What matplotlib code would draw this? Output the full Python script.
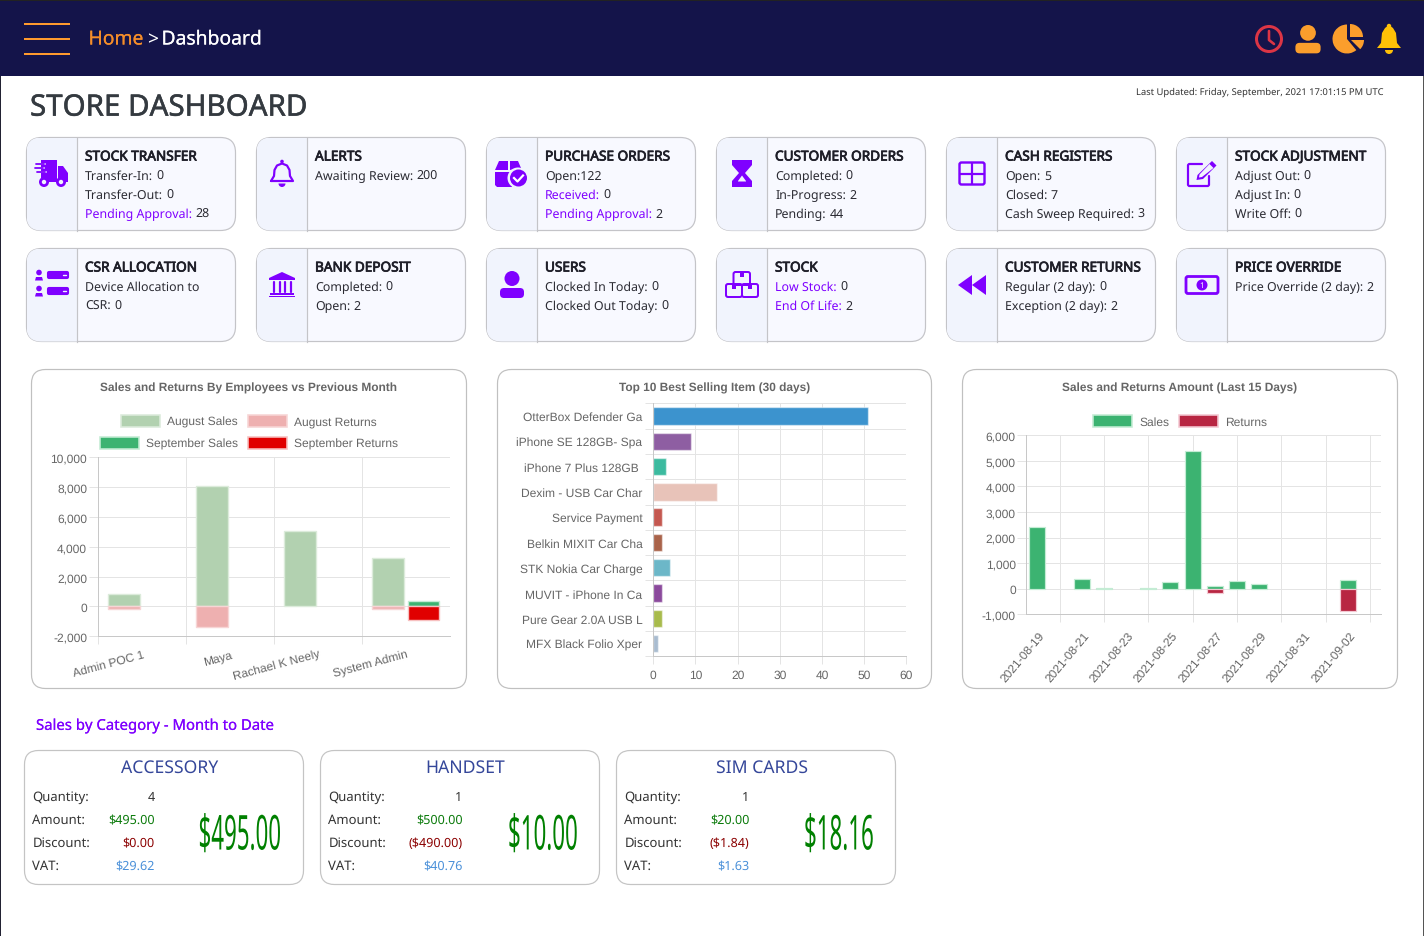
import numpy as np
import matplotlib
matplotlib.use('Agg')
import matplotlib.pyplot as plt
from matplotlib.patches import Rectangle, FancyBboxPatch, Circle, Polygon, Wedge
from matplotlib.patheffects import AbstractPathEffect, Stroke, Normal
from matplotlib.transforms import Affine2D

plt.rcParams['text.hinting'] = 'none'

W = 1424
H = 937
UI_FONT = 'Noto Sans'
CHART_FONT = 'Liberation Sans'
PURPLE = '#7f00ff'
GRID = '#e4e4e4'
AXIS_LINE = '#c8c8c8'
TICK_TEXT = '#666666'

# top cards: title, then lines of (label, value, label is purple)
card_titles = ['STOCK TRANSFER', 'ALERTS', 'PURCHASE ORDERS', 'CUSTOMER ORDERS', 'CASH REGISTERS', 'STOCK ADJUSTMENT',
               'CSR ALLOCATION', 'BANK DEPOSIT', 'USERS', 'STOCK', 'CUSTOMER RETURNS', 'PRICE OVERRIDE']
card_lines = [
    [('Transfer-In:', '0', False), ('Transfer-Out:', '0', False), ('Pending Approval:', '28', True)],
    [('Awaiting Review:', '200', False)],
    [('Open:122', '', False), ('Received:', '0', True), ('Pending Approval:', '2', True)],
    [('Completed:', '0', False), ('In-Progress:', '2', False), ('Pending:', '44', False)],
    [('Open:', '5', False), ('Closed:', '7', False), ('Cash Sweep Required:', '3', False)],
    [('Adjust Out:', '0', False), ('Adjust In:', '0', False), ('Write Off:', '0', False)],
    [('Device Allocation to', '', False), ('CSR:', '0', False)],
    [('Completed:', '0', False), ('Open:', '2', False)],
    [('Clocked In Today:', '0', False), ('Clocked Out Today:', '0', False)],
    [('Low Stock:', '0', True), ('End Of Life:', '2', True)],
    [('Regular (2 day):', '0', False), ('Exception (2 day):', '2', False)],
    [('Price Override (2 day):', '2', False)],
]

# chart 1
employees = ['Admin POC 1', 'Maya', 'Rachael K Neely', 'System Admin']
august_sales = [850, 8050, 5050, 3250]
august_returns = [-200, -1400, 0, -200]
september_sales = [0, 0, 0, 350]
september_returns = [0, 0, 0, -900]

# chart 2
top_items = ['OtterBox Defender Ga', 'iPhone SE 128GB- Spa', 'iPhone 7 Plus 128GB ', 'Dexim - USB Car Char', 'Service Payment',
             'Belkin MIXIT Car Cha', 'STK Nokia Car Charge', 'MUVIT - iPhone In Ca', 'Pure Gear 2.0A USB L', 'MFX Black Folio Xper']
top_quantity = [51, 9, 3, 15, 2, 2, 4, 2, 2, 1]
top_colors = ['#3c93ce', '#8e5ea2', '#3cba9f', '#e8c3b9', '#c45850', '#a9634a', '#6cb7c8', '#8b4a9c', '#a8bb4c', '#a9bcd0']

# chart 3
day_labels = ['2021-08-19', '2021-08-21', '2021-08-23', '2021-08-25', '2021-08-27', '2021-08-29', '2021-08-31', '2021-09-02']
daily_sales = [2400, 0, 370, 30, 0, 20, 270, 5400, 90, 290, 170, 0, 0, 0, 340, 0]
daily_returns = [0, 0, 0, 0, 0, 0, 0, 0, -170, 0, 0, 0, 0, 0, -880, 0]

# bottom cards
category_names = ['ACCESSORY', 'HANDSET', 'SIM CARDS']
category_quantity = ['4', '1', '1']
category_amount = ['$495.00', '$500.00', '$20.00']
category_discount = ['$0.00', '($490.00)', '($1.84)']
category_vat = ['$29.62', '$40.76', '$1.63']
category_total = ['$495.00', '$10.00', '$18.16']


class Squeeze(AbstractPathEffect):
    # big totals on the page are tall narrow text, stretch around the anchor
    def __init__(self, sx, sy, x0, y0):
        self.sx = sx
        self.sy = sy
        self.x0 = x0
        self.y0 = y0

    def draw_path(self, renderer, gc, tpath, affine, rgbFace=None):
        squash = Affine2D().translate(-self.x0, -self.y0).scale(self.sx, self.sy).translate(self.x0, self.y0)
        renderer.draw_path(gc, tpath, affine + squash, rgbFace)


def px(v):
    return v * 0.72


def pxAxes(fig, left, top, right, bottom):
    ax = fig.add_axes([left / W, 1 - bottom / H, (right - left) / W, (bottom - top) / H])
    ax.patch.set_alpha(0)
    return ax


def nonZero(x, values):
    # bars of value 0 leave no mark on the page
    values = np.array(values)
    return x[values != 0], values[values != 0]


def roundBox(ax, x0, y0, x1, y1, r, fc, ec, lw=1.0, z=1):
    box = FancyBboxPatch((x0 + r, y0 + r), x1 - x0 - 2 * r, y1 - y0 - 2 * r, boxstyle='round,pad=%f,rounding_size=%f' % (r, r),
                         fc=fc, ec=ec, lw=px(lw), zorder=z)
    ax.add_patch(box)
    return box


def label(ax, x, y, s, size, color='#222222', weight='normal', ha='left', family=UI_FONT, va='center', thick=0):
    t = ax.text(x, y, s, fontsize=px(size), color=color, fontweight=weight, ha=ha, va=va, family=family, zorder=6)
    if thick > 0:
        # the UI font has no heavier face installed
        t.set_path_effects([Stroke(linewidth=thick, foreground=color), Normal()])
    return t


def outlineRect(ax, x, y, w, h, lw=2.2, c=PURPLE, fc='none'):
    ax.add_patch(FancyBboxPatch((x, y), w, h, boxstyle='round,pad=0,rounding_size=2', fc=fc, ec=c, lw=px(lw), zorder=5))


def fill(ax, pts, c=PURPLE):
    ax.add_patch(Polygon(pts, closed=True, fc=c, ec='none', zorder=5))


def dot(ax, x, y, r, c=PURPLE, z=5):
    ax.add_patch(Circle((x, y), r, fc=c, ec='none', zorder=z))


def stroke(ax, xs, ys, lw=2.0, c=PURPLE):
    ax.plot(xs, ys, color=c, lw=px(lw), solid_capstyle='round', zorder=5)


def personIcon(ax, cx, top, scale, c=PURPLE):
    dot(ax, cx, top + 7.5 * scale, 7.5 * scale, c)
    ax.add_patch(FancyBboxPatch((cx - 12 * scale, top + 17 * scale), 24 * scale, 10 * scale,
                                boxstyle='round,pad=0,rounding_size=%f' % (4 * scale), fc=c, ec='none', zorder=5))


def bellOutline(ax, cx, c=PURPLE):
    xs = [cx - 11, cx - 8, cx - 7.5, cx - 5, cx, cx + 5, cx + 7.5, cx + 8, cx + 11, cx - 11]
    ys = [181, 176, 170, 165.5, 163.5, 165.5, 170, 176, 181, 181]
    stroke(ax, xs, ys, 2.2, c)
    dot(ax, cx, 161.5, 1.8, c)
    ax.add_patch(Wedge((cx, 183.5), 3.5, 0, 180, fc=c, ec='none', zorder=5))


def drawIcons(ax):
    # truck
    fill(ax, [(41, 160), (57, 160), (57, 182), (41, 182)])
    fill(ax, [(58, 166), (63, 166), (68, 173), (68, 182), (58, 182)])
    for yy, x0 in [(164, 36), (168, 35), (172, 37)]:
        stroke(ax, [x0, x0 + 9], [yy, yy], 1.8, '#f1f4fd')
        stroke(ax, [x0, x0 + 8], [yy, yy], 1.8)
    dot(ax, 44, 182, 5, PURPLE, 6)
    dot(ax, 44, 182, 2.2, '#f1f4fd', 7)
    dot(ax, 61, 182, 5, PURPLE, 6)
    dot(ax, 61, 182, 2.2, '#f1f4fd', 7)
    bellOutline(ax, 282)
    # purchase orders box with check
    fill(ax, [(499, 161), (508, 161), (508, 170), (495, 170)])
    fill(ax, [(510, 161), (518, 161), (521, 168), (510, 170)])
    fill(ax, [(495, 172), (512, 172), (512, 187), (497, 187), (495, 185)])
    dot(ax, 518, 178, 10.5, '#f1f4fd', 6)
    dot(ax, 518.5, 178, 8.5, PURPLE, 7)
    ax.plot([514, 517.5, 523], [178, 181.5, 175.5], color='white', lw=px(2.2), zorder=8)
    # hourglass
    fill(ax, [(732, 160), (752, 160), (752, 165), (745, 173), (752, 181), (752, 187), (732, 187), (732, 181), (739, 173), (732, 165)])
    fill(ax, [(738, 181), (742, 175.5), (746, 181), (746, 181.5), (738, 181.5)], '#f1f4fd')
    # cash registers grid
    outlineRect(ax, 959.5, 162.5, 25, 22, 2.4)
    stroke(ax, [972, 972], [163, 184], 2.2)
    stroke(ax, [960, 984], [173.5, 173.5], 2.2)
    # edit
    stroke(ax, [1202, 1189, 1188, 1188, 1189, 1208, 1209, 1209], [164, 164, 165, 185, 186, 186, 185, 176], 2.2)
    fill(ax, [(1212, 161), (1216.5, 165.5), (1203, 179), (1196.5, 180), (1197.5, 175)])
    fill(ax, [(1209.5, 164), (1213.5, 168), (1202, 177), (1199, 177.5), (1199.5, 174.5)], '#f1f4fd')
    # csr allocation
    for yy in [272, 288]:
        dot(ax, 39, yy + 0.5, 2.8)
        fill(ax, [(35, yy + 8.5), (36, yy + 5), (42, yy + 5), (43, yy + 8.5)])
        outlineRect(ax, 47, yy - 1, 22, 8, 0.1, PURPLE, PURPLE)
        stroke(ax, [58 + 5, 66], [yy + 3, yy + 3], 1.4, '#f1f4fd')
    # bank
    fill(ax, [(282, 272), (295, 278), (295, 280), (269, 280), (269, 278)])
    for xx in [273.5, 279.5, 284.5, 290.5]:
        stroke(ax, [xx, xx], [282, 292], 2.2)
    fill(ax, [(270, 293), (294, 293), (294, 295), (270, 295)])
    fill(ax, [(269, 295.5), (295, 295.5), (295, 297), (269, 297)])
    personIcon(ax, 512, 271, 1.0)
    # stock boxes
    outlineRect(ax, 733.5, 272, 16.5, 13, 2.0)
    outlineRect(ax, 726, 284, 16, 13, 2.0)
    outlineRect(ax, 742, 284, 16, 13, 2.0)
    for xx, yy in [(741.5, 272), (734, 284), (750, 284)]:
        fill(ax, [(xx - 2, yy), (xx + 2, yy), (xx + 2, yy + 5), (xx - 2, yy + 5)])
    # rewind
    fill(ax, [(958, 285), (972, 275), (972, 295)])
    fill(ax, [(972, 285), (986, 275), (986, 295)])
    # money
    outlineRect(ax, 1186, 276.5, 32, 17, 2.8)
    dot(ax, 1202, 285, 5.5)
    ax.text(1202, 285, '1', color='white', fontsize=px(8), fontweight='bold', ha='center', va='center', family=UI_FONT, zorder=8)


def drawHeader(ax):
    ax.add_patch(Rectangle((0, 0), W, 76, fc='#14144a', ec='none', zorder=2))
    ax.add_patch(Rectangle((0, 0), W, 1, fc='#222222', ec='none', zorder=3))
    ax.add_patch(Rectangle((0, 76), 1, H - 76, fc='#222233', ec='none', zorder=3))
    ax.add_patch(Rectangle((W - 1, 76), 1, H - 76, fc='#555555', ec='none', zorder=3))
    for yy in [24, 39, 54]:
        ax.add_patch(Rectangle((24, yy - 1), 46, 2, fc='#ff9a2e', ec='none', zorder=3))
    label(ax, 88.5, 39.5, 'Home', 19.3, '#f58d2a', thick=0.1)
    label(ax, 147, 39, '>', 19.3, 'white')
    label(ax, 161.5, 39.5, 'Dashboard', 19.3, 'white', thick=0.1)
    # clock
    ax.add_patch(Circle((1269, 39), 12.5, fc='none', ec='#dc3545', lw=px(3), zorder=5))
    stroke(ax, [1269, 1269, 1274], [31, 40, 44], 2.6, '#dc3545')
    # user
    personIcon(ax, 1308, 25, 1.05, '#fb9e2c')
    # pie
    ax.add_patch(Wedge((1347, 39), 14.5, 50, 270, fc='#fb9e2c', ec='none', zorder=5))
    ax.add_patch(Wedge((1350, 37), 13, 270, 360, fc='#fb9e2c', ec='none', zorder=5))
    ax.add_patch(Wedge((1351, 40), 13, 0, 45, fc='#fb9e2c', ec='none', zorder=5))
    # bell
    fill(ax, [(1377, 48), (1381, 43), (1382, 33), (1385, 28), (1389, 25), (1393, 28), (1396, 33), (1397, 43), (1401, 48)], '#ffc107')
    dot(ax, 1389, 26, 2.2, '#ffc107')
    ax.add_patch(Wedge((1389, 50), 4, 0, 180, fc='#ffc107', ec='none', zorder=5))


def drawCards(ax, renderer):
    lefts = [26.5, 256.5, 486.5, 716.5, 946.5, 1176.5]
    tops = [137.5, 248.5]
    for i in range(len(card_titles)):
        x0 = lefts[i % 6]
        y0 = tops[i // 6]
        box = roundBox(ax, x0, y0, x0 + 209, y0 + 93, 15, '#f8f9ff', '#c4c4c8', 1.2, 2)
        panel = Rectangle((x0, y0), 50, 93, fc='#f1f4fd', ec='none', zorder=3)
        ax.add_patch(panel)
        panel.set_clip_path(box)
        ax.plot([x0 + 50, x0 + 50], [y0, y0 + 93], color='#c4c4c8', lw=px(1.2), zorder=4)
        label(ax, x0 + 58.5, y0 + 19.5, card_titles[i], 13.6, '#1e1e28', thick=0.55)
        for j, (name, value, purple) in enumerate(card_lines[i]):
            yy = y0 + 38.5 + 19 * j
            t = label(ax, x0 + 58.5, yy, name, 12.4, PURPLE if purple else '#2b2b33')
            if value != '':
                end = t.get_window_extent(renderer).x1
                label(ax, end + 3.5, yy, value, 12.4, '#2b2b33')


def legendEntry(ax, x, y, w, fc, ec, s, tx):
    ax.add_patch(Rectangle((x, y), w, 12, fc=fc, ec=ec, lw=px(1.6), zorder=3))
    label(ax, tx, y + 10, s, 12, TICK_TEXT, family=CHART_FONT, va='baseline')


def styleAxes(ax):
    for side in ['top', 'right']:
        ax.spines[side].set_visible(False)
    for side in ['left', 'bottom']:
        ax.spines[side].set_color(AXIS_LINE)
        ax.spines[side].set_linewidth(px(1))
    ax.set_axisbelow(True)


def drawEmployees(fig, frame):
    ax = pxAxes(fig, 97.7, 458.3, 450, 637.3)
    styleAxes(ax)
    x = np.arange(len(employees))
    xs, ys = nonZero(x, august_sales)
    ax.bar(xs - 0.2, ys, 0.36, color='#b2d1b0', edgecolor='#dcebdb', linewidth=px(1.4))
    xs, ys = nonZero(x, august_returns)
    ax.bar(xs - 0.2, ys, 0.36, color='#eeb0b0', edgecolor='#f7d5d5', linewidth=px(1.4))
    xs, ys = nonZero(x, september_sales)
    ax.bar(xs + 0.2, ys, 0.36, color='#3cb371', edgecolor='#c4ecd4', linewidth=px(1.4))
    xs, ys = nonZero(x, september_returns)
    ax.bar(xs + 0.2, ys, 0.36, color='#e00000', edgecolor='#f7c0c0', linewidth=px(1.4))
    ax.set_xlim(-0.5, 3.5)
    ax.set_ylim(-2000, 10000)
    ax.set_yticks(range(-2000, 10001, 2000))
    ax.set_yticklabels(['{:,}'.format(v) for v in range(-2000, 10001, 2000)], family=CHART_FONT, fontsize=px(12), color=TICK_TEXT)
    ax.set_xticks(np.arange(-0.5, 3.5, 1))
    ax.set_xticklabels([])
    ax.set_xticks(x + 0.005, labels=employees, minor=True, family=CHART_FONT, fontsize=px(12), color=TICK_TEXT,
                  rotation=15, ha='right', rotation_mode='anchor')
    ax.tick_params(axis='x', which='minor', length=0, pad=px(12))
    ax.tick_params(axis='x', which='major', length=px(8), color=GRID, width=px(1))
    ax.tick_params(axis='y', length=px(9), color=GRID, width=px(1), pad=px(1.5))
    ax.grid(True, which='major', color=GRID, lw=px(1))
    ax.axhline(0, color='#d8d8d8', lw=px(1), zorder=0.5)
    roundBox(frame, 31.5, 369.5, 466.5, 688.5, 14, 'white', '#c0c0c0', 1.2, 1)
    label(frame, 249, 387, 'Sales and Returns By Employees vs Previous Month', 11.95, TICK_TEXT, 'bold', 'center', CHART_FONT)
    legendEntry(frame, 121, 414.5, 39, '#b2d1b0', '#dcebdb', 'August Sales', 167)
    legendEntry(frame, 248, 414.5, 39, '#eeb0b0', '#f7d5d5', 'August Returns', 294)
    legendEntry(frame, 100, 436.5, 39, '#3cb371', '#c4ecd4', 'September Sales', 146)
    legendEntry(frame, 248, 436.5, 39, '#e00000', '#f7c0c0', 'September Returns', 294)


def drawTopItems(fig, frame):
    ax = pxAxes(fig, 653.3, 404.3, 906.3, 657.3)
    styleAxes(ax)
    y = np.arange(len(top_items))
    ax.barh(y, top_quantity, 0.69, color=top_colors, edgecolor='#ffffff80', linewidth=px(1.4))
    ax.set_xlim(0, 60)
    ax.set_ylim(9.5, -0.5)
    ax.set_xticks(range(0, 61, 10))
    ax.set_xticklabels([str(v) for v in range(0, 61, 10)], family=CHART_FONT, fontsize=px(12), color=TICK_TEXT)
    ax.set_yticks(np.arange(-0.5, 10, 1))
    ax.set_yticklabels([])
    ax.set_yticks(y, labels=top_items, minor=True, family=CHART_FONT, fontsize=px(12), color=TICK_TEXT, va='center_baseline')
    ax.tick_params(axis='y', which='minor', length=0, pad=px(11))
    ax.tick_params(axis='y', which='major', length=px(8), color=GRID, width=px(1))
    ax.tick_params(axis='x', length=px(8), color=GRID, width=px(1), pad=px(5))
    ax.grid(True, which='major', color=GRID, lw=px(1))
    roundBox(frame, 497.5, 369.5, 931.5, 688.5, 14, 'white', '#c0c0c0', 1.2, 1)
    label(frame, 714.5, 387, 'Top 10 Best Selling Item (30 days)', 11.95, TICK_TEXT, 'bold', 'center', CHART_FONT)


def drawDaily(fig, frame):
    ax = pxAxes(fig, 1026.3, 436.3, 1381, 615.3)
    styleAxes(ax)
    x = np.arange(len(daily_sales))
    xs, ys = nonZero(x, daily_sales)
    ax.bar(xs, ys, 0.72, color='#3cb371', edgecolor='#c4ecd4', linewidth=px(1.2))
    xs, ys = nonZero(x, daily_returns)
    ax.bar(xs, ys, 0.72, color='#b82642', edgecolor='#f3c8d2', linewidth=px(1.2))
    ax.set_xlim(-0.5, 15.5)
    ax.set_ylim(-1000, 6000)
    ax.set_yticks(range(-1000, 6001, 1000))
    ax.set_yticklabels(['{:,}'.format(v) for v in range(-1000, 6001, 1000)], family=CHART_FONT, fontsize=px(12), color=TICK_TEXT)
    ax.set_xticks(np.arange(1, 16, 2))
    ax.set_xticklabels([])
    ax.set_xticks(np.arange(0, 15, 2) + 0.05, labels=day_labels, minor=True, family=CHART_FONT, fontsize=px(12), color=TICK_TEXT,
                  rotation=50, ha='right', rotation_mode='anchor')
    ax.tick_params(axis='x', which='minor', length=0, pad=px(15))
    ax.tick_params(axis='x', which='major', length=px(8), color=GRID, width=px(1))
    ax.tick_params(axis='y', length=px(9), color=GRID, width=px(1), pad=px(1.5))
    ax.grid(True, which='major', color=GRID, lw=px(1))
    ax.axhline(0, color='#d8d8d8', lw=px(1), zorder=0.5)
    roundBox(frame, 962.5, 369.5, 1397.5, 688.5, 14, 'white', '#c0c0c0', 1.2, 1)
    label(frame, 1180, 387, 'Sales and Returns Amount (Last 15 Days)', 11.95, TICK_TEXT, 'bold', 'center', CHART_FONT)
    legendEntry(frame, 1093, 414.5, 39, '#3cb371', '#c4ecd4', 'Sales', 1139)
    legendEntry(frame, 1179, 414.5, 39, '#b82642', '#f3c8d2', 'Returns', 1225)


def drawCategories(ax):
    label(ax, 36, 726, 'Sales by Category - Month to Date', 14.9, PURPLE, thick=0.1)
    lefts = [24.5, 320.5, 616.5]
    value_right = [154.5, 462.5, 749.5]
    total_left = [198.5, 508, 804]
    names = ['Quantity:', 'Amount:', 'Discount:', 'VAT:']
    colors = ['#333333', '#0a7a0a', '#8b0000', '#4a90d9']
    for i in range(3):
        x0 = lefts[i]
        roundBox(ax, x0, 750.5, x0 + 279, 884.5, 14, 'white', '#c4c4c4', 1.2, 1)
        label(ax, x0 + 145, 767.5, category_names[i], 17.6, '#35479a', ha='center')
        values = [category_quantity[i], category_amount[i], category_discount[i], category_vat[i]]
        for j in range(4):
            yy = 796.5 + 23 * j
            label(ax, x0 + 8, yy, names[j], 13.1, '#333333')
            label(ax, value_right[i], yy, values[j], 12.6, colors[j], ha='right')
        t = label(ax, total_left[i], 836, category_total[i], 24, '#008000')
        t.set_path_effects([Squeeze(0.93, 2.0, total_left[i], H - 836)])


def main():
    fig = plt.figure(figsize=(W / 100, H / 100), dpi=100, facecolor='white')
    frame = fig.add_axes([0, 0, 1, 1], zorder=0)
    frame.set_xlim(0, W)
    frame.set_ylim(H - 1, -1)
    frame.axis('off')
    renderer = fig.canvas.get_renderer()

    drawHeader(frame)
    label(frame, 30, 108, 'STORE DASHBOARD', 29.5, '#343a40', thick=0.35)
    label(frame, 1383.5, 91.5, 'Last Updated: Friday, September, 2021 17:01:15 PM UTC', 9.4, '#333333', ha='right')
    drawCards(frame, renderer)
    drawIcons(frame)
    drawEmployees(fig, frame)
    drawTopItems(fig, frame)
    drawDaily(fig, frame)
    drawCategories(frame)

    fig.savefig('out.png', dpi=100)


main()
